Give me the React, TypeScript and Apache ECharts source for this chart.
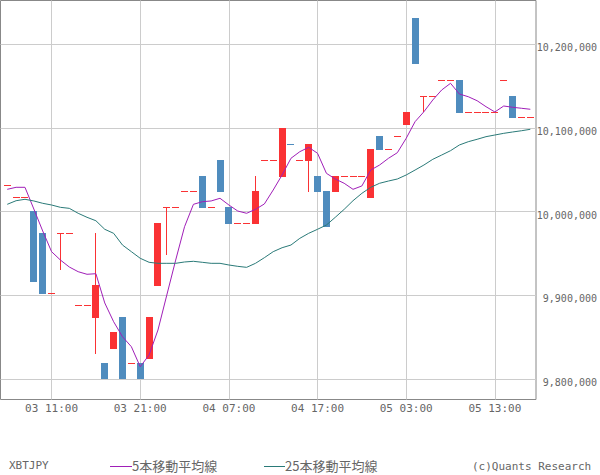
import { useEffect, useRef } from "react";
import * as echarts from "echarts";

// prices are in thousands of yen, one candle per hour
const OPEN = [
  10031.4, 10017.1, 10017.1, 10000.7, 9974.5, 9902.5, 9974.1, 9974.1, 9888.2, 9888.2,
  9873, 9819.3, 9836, 9874.2, 9819, 9819.3, 9824.1, 9911.2, 10005.1, 10005.1,
  10024.2, 10024.2, 10042.5, 10005.1, 10061.6, 10005.5, 9986, 9986, 9985.2, 10061.2,
  10061.2, 10041.3, 10080.3, 10061.2, 10060.4, 10042.5, 10024.6, 10023.4, 10042.1, 10042.1,
  10042.1, 10016.2, 10090.2, 10074.3, 10089.9, 10103.3, 10231, 10137.6, 10137.6, 10156.7,
  10156.7, 10157, 10118.5, 10118.5, 10118.5, 10118.5, 10156.7, 10138, 10112.5, 10112.5,
];
const CLOSE = [
  10031.4, 10017.1, 10017.1, 9916, 9901.7, 9902.5, 9974.1, 9974.1, 9888.2, 9888.2,
  9912.4, 9799.9, 9856.3, 9799.9, 9819, 9799.9, 9874.2, 9986.4, 10005.1, 10005.1,
  10024.2, 10024.2, 10004.3, 10005.1, 10023.4, 9985.2, 9986, 9986, 10024.6, 10061.2,
  10061.2, 10099.8, 10080.3, 10061.2, 10080.7, 10023.4, 9981.6, 10042.5, 10042.1, 10042.1,
  10042.1, 10074.7, 10073.5, 10074.3, 10089.9, 10118.9, 10176.1, 10137.6, 10137.6, 10156.7,
  10156.7, 10117.7, 10118.5, 10118.5, 10118.5, 10118.5, 10156.7, 10111.7, 10112.5, 10112.5,
];
const LOW = [
  10031.4, 10017.1, 10017.1, 9916, 9901.7, 9902.5, 9930.7, 9974.1, 9888.2, 9888.2,
  9830.1, 9799.9, 9836, 9799.9, 9819, 9799.9, 9824.1, 9911.2, 9948.2, 10005.1,
  10024.2, 10024.2, 10004.3, 10005.1, 10023.4, 9985.2, 9986, 9986, 9985.2, 10061.2,
  10061.2, 10041.3, 10080.3, 10061.2, 10023.4, 10023.4, 9981.6, 10023.4, 10042.1, 10042.1,
  10042.1, 10016.2, 10073.5, 10074.3, 10089.9, 10103.3, 10176.1, 10118.9, 10137.6, 10156.7,
  10156.7, 10117.7, 10118.5, 10118.5, 10118.5, 10118.5, 10156.7, 10111.7, 10112.5, 10112.5,
];
const HIGH = [
  10031.4, 10017.1, 10017.1, 10000.7, 9974.5, 9902.5, 9974.1, 9974.1, 9888.2, 9888.2,
  9974.5, 9819.3, 9856.3, 9874.2, 9819, 9819.3, 9874.2, 9986.4, 10005.1, 10005.1,
  10024.2, 10024.2, 10042.5, 10005.1, 10061.6, 10005.5, 9986, 9986, 10042.5, 10061.2,
  10061.2, 10099.8, 10080.3, 10061.2, 10080.7, 10042.5, 10024.6, 10042.5, 10042.1, 10042.1,
  10042.1, 10074.7, 10090.2, 10074.3, 10089.9, 10118.9, 10231, 10137.6, 10137.6, 10156.7,
  10156.7, 10157, 10118.5, 10118.5, 10118.5, 10118.5, 10156.7, 10138, 10112.5, 10112.5,
];
const BLUE_DOJI = [32];

const MA5 = [
  10026.6, 10029, 10029, 10003.1, 9976.9, 9952.2, 9942.2, 9933.9, 9928.3, 9925.2,
  9925.9, 9891, 9868.6, 9850.7, 9838.8, 9814.9, 9828.9, 9858.7, 9900.5, 9942.2,
  9982, 10008.7, 10011.8, 10012.7, 10015.9, 10007.9, 10000.7, 9998, 10002.7, 10009.1,
  10025.8, 10043.7, 10063.6, 10071.5, 10076.7, 10069.6, 10045.7, 10038.9, 10033.8, 10026.6,
  10030.6, 10049.6, 10055.6, 10063.6, 10070.3, 10087.5, 10107.3, 10119.2, 10133.2, 10145.1,
  10153.1, 10140.3, 10137.1, 10132.3, 10125.2, 10118.9, 10126, 10124.5, 10123.3, 10122.1,
];
const MA25 = [
  10008.7, 10013, 10014.7, 10012.7, 10009.9, 10007.9, 10005.1, 10003.9, 9998, 9993.2,
  9989.1, 9978.9, 9974.1, 9960.1, 9952.2, 9944.3, 9939.5, 9938.3, 9938.3, 9938.3,
  9939.9, 9940.7, 9939.5, 9938.3, 9938.3, 9936.3, 9934.7, 9933.5, 9938.3, 9945,
  9952.2, 9956.9, 9960.1, 9968.1, 9974.1, 9978.9, 9984, 9993.2, 10002.7, 10013,
  10021.8, 10029, 10033.8, 10036.5, 10038.9, 10043.7, 10049.6, 10055.6, 10062.4, 10067.5,
  10072.7, 10079.5, 10083.4, 10086.3, 10089.4, 10091.4, 10093.4, 10095, 10096.5, 10098.2,
];

const X_TICKS = [5, 15, 25, 35, 45, 55];
const X_LABELS = ["03 11:00", "03 21:00", "04 07:00", "04 17:00", "05 03:00", "05 13:00"];
const Y_TICKS = [9800, 9900, 10000, 10100, 10200];
const Y_LABELS = ["9,800,000", "9,900,000", "10,000,000", "10,100,000", "10,200,000"];

const RED = "#fa3234";
const BLUE = "#4f8cbe";
const PURPLE = "#a01fb8";
const TEAL = "#2a7a78";
const GRAY = "#666";
const MONO = "'DejaVu Sans Mono', monospace";
const CJK = "'Noto Sans CJK JP'";

const renderCandle = (params: any, api: any) => {
  const i = api.value(0);
  const open = api.value(1);
  const close = api.value(2);
  const x = Math.round(api.coord([i, open])[0] - 3.5);
  const yOpen = Math.round(api.coord([i, open])[1]);
  const yClose = Math.round(api.coord([i, close])[1]);
  const yLow = Math.round(api.coord([i, api.value(3)])[1]);
  const yHigh = Math.round(api.coord([i, api.value(4)])[1]);
  const color = open === close ? (BLUE_DOJI.includes(i) ? BLUE : RED) : close > open ? RED : BLUE;
  return {
    type: "group",
    children: [
      { type: "rect", shape: { x: x + 3, y: yHigh, width: 1, height: Math.max(yLow - yHigh, 1) }, style: { fill: color } },
      {
        type: "rect",
        shape: { x, y: Math.min(yOpen, yClose), width: 7, height: Math.max(Math.abs(yOpen - yClose), 1) },
        style: { fill: color },
      },
    ],
  };
};

export default function App() {
  const chartRef = useRef<HTMLDivElement>(null);

  useEffect(() => {
    if (!chartRef.current) return;
    const chart = echarts.init(chartRef.current, null, { renderer: "svg" });

    chart.setOption({
      animation: false,
      backgroundColor: "#fff",
      grid: { left: 0.5, top: 0.5, width: 537, height: 399, show: true, borderColor: "#888", borderWidth: 1 },
      xAxis: {
        type: "value",
        min: -0.76,
        max: 59.64,
        axisLine: { show: false },
        axisTick: { show: false, customValues: X_TICKS },
        splitLine: { show: true, lineStyle: { color: "#ccc", width: 1 } },
        axisLabel: {
          customValues: X_TICKS,
          margin: 3,
          color: GRAY,
          fontSize: 11,
          fontFamily: MONO,
          formatter: (v: number) => X_LABELS[X_TICKS.indexOf(v)],
        },
      },
      yAxis: {
        type: "value",
        position: "right",
        min: 9775.8,
        max: 10251.9,
        axisLine: { show: false },
        axisTick: { show: false, customValues: Y_TICKS },
        splitLine: { show: true, lineStyle: { color: "#ccc", width: 1 } },
        axisLabel: {
          customValues: Y_TICKS,
          margin: 61,
          color: GRAY,
          fontSize: 10,
          fontFamily: MONO,
          align: "right",
          verticalAlign: "top",
          lineHeight: 7,
          formatter: (v: number) => Y_LABELS[Y_TICKS.indexOf(v)],
        },
      },
      series: [
        {
          type: "custom",
          renderItem: renderCandle,
          encode: { x: 0, y: [1, 2, 3, 4] },
          data: OPEN.map((open, i) => [i, open, CLOSE[i], LOW[i], HIGH[i]]),
        },
        {
          name: "5本移動平均線",
          type: "line",
          symbol: "none",
          data: MA5.map((v, i) => [i, v]),
          lineStyle: { color: PURPLE, width: 1 },
        },
        {
          name: "25本移動平均線",
          type: "line",
          symbol: "none",
          data: MA25.map((v, i) => [i, v]),
          lineStyle: { color: TEAL, width: 1 },
        },
      ],
      graphic: [
        { type: "text", x: 9, y: 460, style: { text: "XBTJPY", fill: GRAY, fontSize: 11, fontFamily: MONO } },
        { type: "line", shape: { x1: 110, y1: 466.5, x2: 132, y2: 466.5 }, style: { stroke: PURPLE, lineWidth: 1 } },
        { type: "text", x: 132, y: 459, style: { text: "5本移動平均線", fill: GRAY, fontSize: 13, fontFamily: CJK } },
        { type: "line", shape: { x1: 264, y1: 466.5, x2: 285, y2: 466.5 }, style: { stroke: TEAL, lineWidth: 1 } },
        { type: "text", x: 285, y: 459, style: { text: "25本移動平均線", fill: GRAY, fontSize: 13, fontFamily: CJK } },
        { type: "text", x: 472, y: 461, style: { text: "(c)Quants Research", fill: GRAY, fontSize: 11, fontFamily: MONO } },
      ],
    });

    return () => chart.dispose();
  }, []);

  return <div ref={chartRef} style={{ position: "absolute", left: 0, top: 0, width: 600, height: 475 }} />;
}
